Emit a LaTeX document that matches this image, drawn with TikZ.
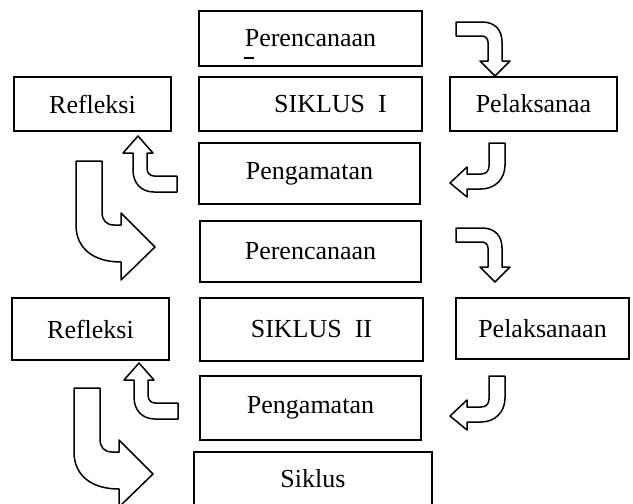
\documentclass[tikz,border=0pt]{standalone}
\usepackage{fontspec}
\setmainfont{Liberation Serif}
\tikzset{%
  box/.style  = {shape=rectangle, draw, line width=1pt, fill=white,%
                 inner sep=0pt, align=center,%
                 font=\fontsize{13pt}{15pt}\selectfont},%
  bent/.style = {draw, fill=white, line width=0.75pt, line join=round}%
}

\begin{document}
\begin{tikzpicture}[x=0.5pt,y=-0.5pt,
	turnright/.pic = {\path[bent] (-39,-54) -- (-13,-54)
		.. controls (0,-54) and (7,-46) .. (7,-34) -- (7,-15) -- (15,-15)
		-- (0,0) -- (-15,-15) -- (-7,-15) -- (-7,-34)
		.. controls (-7,-37.3) and (-9.7,-40) .. (-13,-40) -- (-39,-40) -- cycle;},
	turnleft/.pic = {\path[bent] (39,-40) -- (55,-40) -- (55,-18)
		.. controls (55,-4) and (45,6) .. (31,6) -- (17,6) -- (17,14)
		-- (0,0) -- (17,-16) -- (17,-9) -- (31,-9)
		.. controls (36,-9) and (39,-12) .. (39,-17) -- cycle;},
	turnup/.pic = {\path[bent] (39,40) -- (16,40)
		.. controls (12,40) and (9,37) .. (9,32) -- (9,17) -- (15,17)
		-- (0,0) -- (-15,17) -- (-5,17) -- (-5,34)
		.. controls (-5,47) and (3,56) .. (16,56) -- (39,56) -- cycle;},
	bigturn/.pic = {\path[bent] (-79,-86) -- (-53,-86) -- (-53,-35)
		.. controls (-53,-27) and (-49,-22) .. (-41,-22) -- (-34,-22) -- (-34,-34)
		-- (0,0) -- (-34,33) -- (-34,15)
		.. controls (-62,15) and (-79,1) .. (-79,-22) -- cycle;}]
	\clip (0,0) rectangle (633,504);
	% siklus I
	\node[box, minimum width=111.5pt, minimum height=27.5pt] (plan1) at (310.5,38.5) {Perencanaan};
	\draw[line width=0.6pt] (244,58) -- (254,58);
	\node[box, minimum width=78.5pt, minimum height=27pt] (refl1) at (92.5,104) {Refleksi};
	\node[box, minimum width=111.5pt, minimum height=27pt] (cyc1) at (310.5,104) {\hspace*{20pt}SIKLUS\ \ I};
	\node[box, minimum width=83.5pt, minimum height=27pt] (act1) at (533.5,104) {Pelaksanaa};
	\node[box, minimum width=110.5pt, minimum height=30.5pt] (obs1) at (309.5,173.5) {Pengamatan};
	\pic (arr1) at (495,76) {turnright};
	\pic (arr2) at (450,183) {turnleft};
	\pic (arr3) at (138,136) {turnup};
	\pic (arr4) at (155,247) {bigturn};
	% siklus II
	\node[box, minimum width=110.5pt, minimum height=30.5pt] (plan2) at (310.5,251.5) {Perencanaan};
	\node[box, minimum width=78.5pt, minimum height=31pt] (refl2) at (90.5,329) {Refleksi};
	\node[box, minimum width=111.5pt, minimum height=31.5pt] (cyc2) at (311.5,329.5) {SIKLUS\ \ II};
	\node[box, minimum width=86.5pt, minimum height=30.5pt] (act2) at (542.5,328.5) {Pelaksanaan};
	\node[box, minimum width=110.5pt, minimum height=32pt] (obs2) at (310.5,408) {Pengamatan};
	\node[box, minimum width=119pt, minimum height=27pt] (next) at (313,479) {Siklus};
	\pic (arr5) at (495,282) {turnright};
	\pic (arr6) at (450,416) {turnleft};
	\pic (arr7) at (139,363) {turnup};
	\pic (arr8) at (153,474) {bigturn};
\end{tikzpicture}
\end{document}
